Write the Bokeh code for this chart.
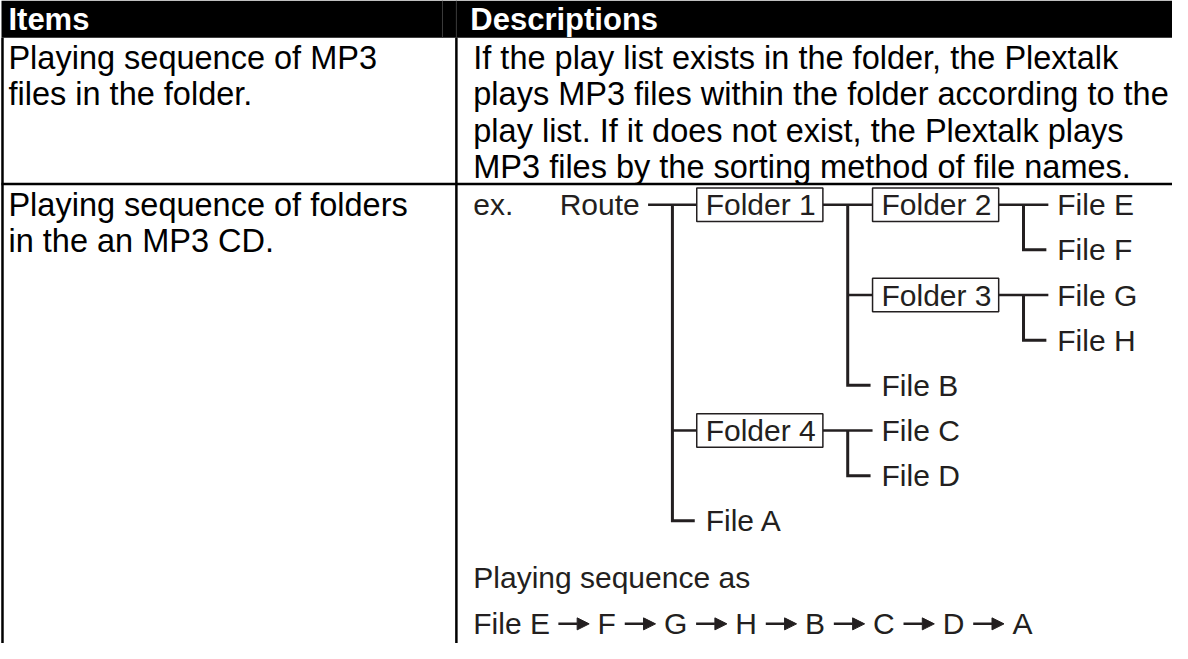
from bokeh.plotting import figure
from bokeh.models import Range1d, ColumnDataSource, Arrow, NormalHead
from bokeh.core.properties import value
from bokeh.embed import file_html
from bokeh.resources import INLINE

# ---------------- data ----------------
header_labels = ["Items", "Descriptions"]
row1_item_lines = ["Playing sequence of MP3", "files in the folder."]
row1_desc_lines = [
    "If the play list exists in the folder, the Plextalk",
    "plays MP3 files within the folder according to the",
    "play list. If it does not exist, the Plextalk plays",
    "MP3 files by the sorting method of file names.",
]
row2_item_lines = ["Playing sequence of folders", "in the an MP3 CD."]
example_label = "ex."
tree_names = ["Route", "Folder 1", "Folder 2", "File E", "File F", "Folder 3",
              "File G", "File H", "File B", "Folder 4", "File C", "File D", "File A"]
tree_parents = [None, "Route", "Folder 1", "Folder 2", "Folder 2", "Folder 1",
                "Folder 3", "Folder 3", "Folder 1", "Route", "Folder 4", "Folder 4", "Route"]
sequence_caption = "Playing sequence as"
play_order = ["File E", "F", "G", "H", "B", "C", "D", "A"]

# ---------------- layout / style ----------------
FONT = value("Liberation Sans")
INK = "#231f20"
BODY_PX = 32.5
HEAD_PX = 31
DIAG_PX = 30
LINE_GAP = 37
COL1_X, COL2_X = 12, 480
DIVIDER_X = 463
LEFT_X = 6
HEADER_TOP, HEADER_BOTTOM = 5, 43
ROW1_MID = 63.5        # visual centre of first text line in row 1
SEP_Y = 192
ROW0_Y = 213
ROW_PITCH = 46
ROOT_X, ROOT_LINE_X = 567, 656
COL_LEFT0, COL_STEP = 705, 177
BOX_W, BOX_H, TEXT_PAD = 127, 34, 9
CAPTION_Y = 593
SEQ_Y = 640

# Arial / Liberation Sans advance widths (per 1000 em) for the sequence line
ADV = {"F": 611, "i": 222, "l": 222, "e": 556, " ": 278, "E": 667, "G": 778,
       "H": 722, "B": 667, "C": 722, "D": 722, "A": 667}


def text_width(s, px):
    return sum(ADV[c] for c in s) * px / 1000.0


TXT = dict(text_font=FONT, text_baseline="middle")

p = figure(width=1172, height=643, x_range=Range1d(4, 1184), y_range=Range1d(660, 5),
           output_backend="svg", toolbar_location=None, min_border=0,
           x_axis_location=None, y_axis_location=None)
p.grid.visible = False
p.outline_line_color = None
p.background_fill_color = "white"
p.border_fill_color = "white"

# ---- table frame ----
p.quad(left=[5], right=[1190], top=[HEADER_TOP], bottom=[HEADER_BOTTOM],
       fill_color="black", line_color=None)
p.segment(x0=[449, 463], y0=[HEADER_TOP, HEADER_TOP], x1=[449, 463], y1=[HEADER_BOTTOM, HEADER_BOTTOM],
          line_color="#3c3c3c", line_width=1)
p.segment(x0=[LEFT_X, DIVIDER_X], y0=[HEADER_BOTTOM, HEADER_BOTTOM],
          x1=[LEFT_X, DIVIDER_X], y1=[665, 665], line_color="black", line_width=2.5)
p.segment(x0=[5], y0=[SEP_Y], x1=[1190], y1=[SEP_Y], line_color="black", line_width=2.5)

# ---- header text ----
p.text(x=[COL1_X, 477], y=[(HEADER_TOP + HEADER_BOTTOM) / 2] * 2, text=header_labels,
       text_color="white", text_font_style="bold", text_font_size=value(f"{HEAD_PX}px"), **TXT)

# ---- row 1 / row 2 text ----
def body_lines(lines, x, first_mid, color="black", px=BODY_PX):
    src = ColumnDataSource(dict(x=[x] * len(lines),
                                y=[first_mid + i * LINE_GAP for i in range(len(lines))],
                                t=lines))
    p.text(x="x", y="y", text="t", source=src, text_color=color,
           text_font_size=value(f"{px}px"), **TXT)

body_lines(row1_item_lines, COL1_X, ROW1_MID)
body_lines(row1_desc_lines, COL2_X, ROW1_MID)
body_lines(row2_item_lines, COL1_X, ROW0_Y)

# ---- tree layout ----
children = {n: [] for n in tree_names}
for n, par in zip(tree_names, tree_parents):
    if par is not None:
        children[par].append(n)
depth, row = {}, {}


def place(n, d, r):
    depth[n] = d
    row[n] = r
    last = r
    for i, c in enumerate(children[n]):
        last = place(c, d + 1, r if i == 0 else last + 1)
    return last


root = tree_names[0]
place(root, 0, 0)


def ypos(n):
    return ROW0_Y + ROW_PITCH * row[n]


def col_left(d):
    return COL_LEFT0 + (d - 1) * COL_STEP


def is_folder(n):
    return n.startswith("Folder")


def right_edge(n):
    if depth[n] == 0:
        return ROOT_LINE_X
    return col_left(depth[n]) + BOX_W


tx, ty, tt = [], [], []
bl, br, bt, bb = [], [], [], []
hx0, hx1, hy = [], [], []
paths_x, paths_y = [], []
for n in tree_names:
    d = depth[n]
    y = ypos(n)
    if d == 0:
        tx.append(ROOT_X)
    else:
        tx.append(col_left(d) + TEXT_PAD)
        if is_folder(n):
            bl.append(col_left(d)); br.append(col_left(d) + BOX_W)
            bt.append(y - BOX_H / 2); bb.append(y + BOX_H / 2)
    ty.append(y)
    tt.append(n)
    ch = children[n]
    if ch:
        pr = right_edge(n)
        cl = col_left(d + 1)
        trunk = (pr + cl) / 2
        hx0.append(pr); hx1.append(cl); hy.append(y)
        for c in ch[1:-1]:
            hx0.append(trunk); hx1.append(cl if is_folder(c) else cl - 1); hy.append(ypos(c))
        last = ch[-1]
        endx = cl if is_folder(last) else cl - 2
        paths_x.append([trunk, trunk, endx])
        paths_y.append([y, ypos(last), ypos(last)])

p.multi_line(xs=paths_x, ys=paths_y, line_color=INK, line_width=3, line_join="miter")
p.segment(x0=hx0, y0=hy, x1=hx1, y1=hy, line_color=INK, line_width=2.5)
p.quad(left=bl, right=br, top=bt, bottom=bb, fill_color="white", line_color=INK, line_width=1.5)
p.text(x=tx, y=ty, text=tt, text_color=INK, text_font_size=value(f"{DIAG_PX}px"), **TXT)

# "ex." and caption
p.text(x=[COL2_X, COL2_X], y=[ROW0_Y, CAPTION_Y],
       text=[example_label, sequence_caption], text_color=INK,
       text_font_size=value(f"{DIAG_PX}px"), **TXT)

# ---- playing sequence with arrows ----
GAP_PRE, ARROW_LEN, GAP_POST = 9, 31, 8.5
sx, ax0, ax1 = [], [], []
cur = COL2_X
for i, s in enumerate(play_order):
    sx.append(cur)
    cur += text_width(s, DIAG_PX)
    if i < len(play_order) - 1:
        a0 = cur + GAP_PRE
        ax0.append(a0); ax1.append(a0 + ARROW_LEN)
        cur = a0 + ARROW_LEN + GAP_POST
p.text(x=sx, y=[SEQ_Y] * len(sx), text=play_order, text_color=INK,
       text_font_size=value(f"{DIAG_PX}px"), **TXT)
asrc = ColumnDataSource(dict(x0=ax0, x1=ax1, y=[SEQ_Y] * len(ax0)))
p.add_layout(Arrow(end=NormalHead(size=12, fill_color=INK, line_color=INK, line_width=1),
                   x_start="x0", y_start="y", x_end="x1", y_end="y", source=asrc,
                   line_color=INK, line_width=2.5))

open("out.html", "w").write(file_html(p, INLINE))
